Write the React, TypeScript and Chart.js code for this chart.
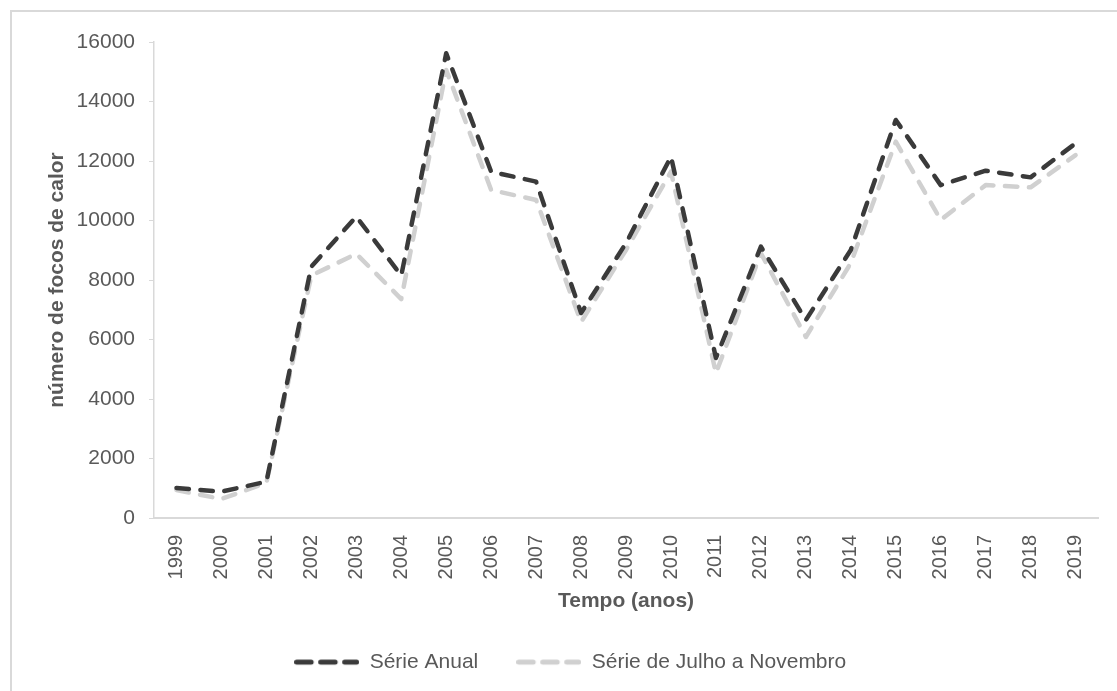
import React, { useEffect, useRef } from "react";
import { Chart, registerables } from "chart.js";

Chart.register(...registerables);

const years = ["1999","2000","2001","2002","2003","2004","2005","2006","2007","2008","2009","2010","2011","2012","2013","2014","2015","2016","2017","2018","2019"];
const serieAnual = [1010, 885, 1220, 8450, 10130, 8150, 15620, 11640, 11305, 6890, 9240, 12145, 5380, 9120, 6655, 9010, 13380, 11190, 11675, 11450, 12595];
const serieJulNov = [940, 640, 1180, 8150, 8880, 7360, 15060, 11025, 10690, 6590, 9010, 11640, 4870, 8900, 6085, 8570, 12650, 10020, 11190, 11115, 12200];
const yTicks = [0, 2000, 4000, 6000, 8000, 10000, 12000, 14000, 16000];

const FONT = "'Liberation Sans', Arial, sans-serif";
const TEXT = "#595959";
const AXIS = "#d9d9d9";
const DARK = "#3a3a3a";
const LIGHT = "#d0d0d0";

function legendSample(color: string): HTMLCanvasElement {
  const c = document.createElement("canvas");
  c.width = 65;
  c.height = 10;
  const g = c.getContext("2d")!;
  g.strokeStyle = color;
  g.lineWidth = 5;
  g.lineCap = "round";
  g.setLineDash([14.5, 9.5]);
  g.beginPath();
  g.moveTo(2.5, 5);
  g.lineTo(62.5, 5);
  g.stroke();
  return c;
}

export default function App() {
  const ref = useRef<HTMLCanvasElement | null>(null);
  useEffect(() => {
    if (!ref.current) return;
    const samples = [legendSample(DARK), legendSample(LIGHT)];
    const chart = new Chart(ref.current, {
      type: "line",
      data: {
        labels: years,
        datasets: [
          {
            label: "Série Anual",
            data: serieAnual,
            borderColor: DARK,
            backgroundColor: DARK,
            borderWidth: 4.5,
            borderDash: [12.5, 11.5],
            borderCapStyle: "round",
            borderJoinStyle: "round",
            pointRadius: 0,
            tension: 0,
            fill: false,
          },
          {
            label: "Série de Julho a Novembro",
            data: serieJulNov,
            borderColor: LIGHT,
            backgroundColor: LIGHT,
            borderWidth: 4.5,
            borderDash: [12.5, 11.5],
            borderCapStyle: "round",
            borderJoinStyle: "round",
            pointRadius: 0,
            tension: 0,
            fill: false,
          },
        ],
      },
      options: {
        responsive: false,
        animation: false,
        layout: { padding: { left: 40.4, right: 17, top: 42, bottom: 8.4 } },
        plugins: {
          tooltip: { enabled: false },
          legend: {
            position: "bottom",
            labels: {
              usePointStyle: true,
              pointStyleWidth: 65,
              padding: 38,
              color: TEXT,
              font: { family: FONT, size: 21 },
              generateLabels: (ch: any) => {
                const items = Chart.defaults.plugins.legend.labels.generateLabels(ch);
                return items.map((it: any, i: number) => ({ ...it, pointStyle: samples[i] }));
              },
            },
          },
        },
        scales: {
          x: {
            type: "category",
            offset: true,
            afterFit: (scale: any) => {
              scale.height = 95.6;
            },
            grid: { display: false, drawTicks: false },
            border: { display: true, color: AXIS, width: 2 },
            ticks: {
              minRotation: 90,
              maxRotation: 90,
              autoSkip: false,
              padding: 17,
              color: TEXT,
              font: { family: FONT, size: 20 },
            },
            title: {
              display: true,
              text: "Tempo (anos)",
              color: TEXT,
              font: { family: FONT, size: 21, weight: "bold" },
              padding: { top: 0, bottom: 0 },
            },
          },
          y: {
            min: 0,
            max: 16000,
            afterBuildTicks: (scale: any) => {
              scale.ticks = yTicks.map((v) => ({ value: v }));
            },
            afterFit: (scale: any) => {
              scale.width = 113.6;
            },
            grid: { display: true, drawOnChartArea: false, drawTicks: true, tickLength: 5, color: AXIS },
            border: { display: true, color: AXIS, width: 1.5 },
            ticks: {
              padding: 14,
              color: TEXT,
              font: { family: FONT, size: 21 },
              callback: (v: any) => String(v),
            },
            title: {
              display: true,
              text: "número de focos de calor",
              color: TEXT,
              font: { family: FONT, size: 21, weight: "bold" },
              padding: { top: 4, bottom: 4 },
            },
          },
        },
      },
    });
    return () => chart.destroy();
  }, []);

  return (
    <>
      <style>{"body{margin:0;overflow:hidden;background:#fff}"}</style>
      <div
        style={{
          position: "absolute",
          left: 10,
          top: 10,
          width: 1130,
          height: 700,
          border: "2px solid #d9d9d9",
          boxSizing: "border-box",
        }}
      />
      <canvas
        ref={ref}
        width={1117}
        height={691}
        style={{ position: "absolute", left: 0, top: 0, width: 1117, height: 691 }}
      />
    </>
  );
}
